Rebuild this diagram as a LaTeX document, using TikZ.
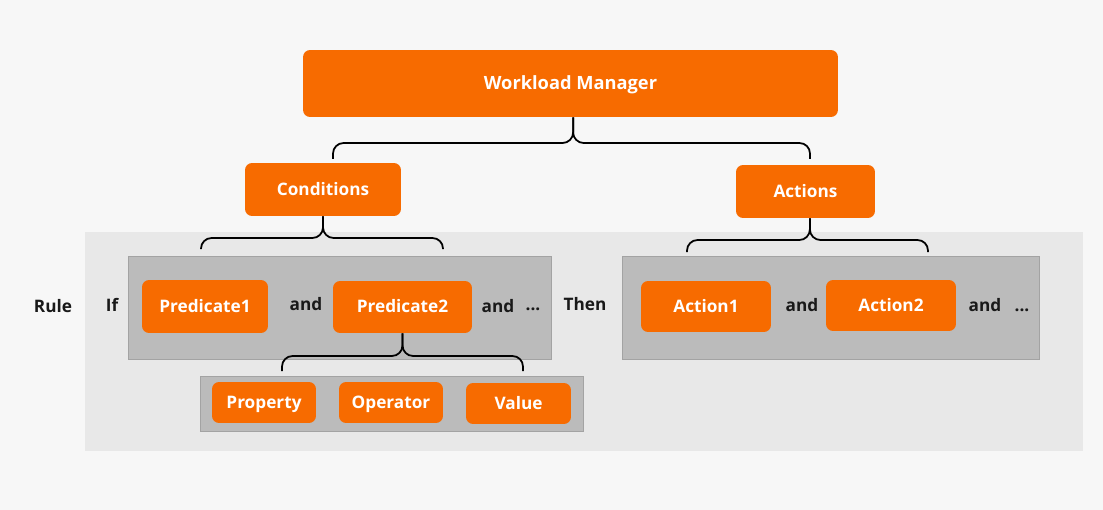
\documentclass[tikz,border=0pt]{standalone}
\usepackage{fontspec}
\setmainfont{Open Sans}
\usetikzlibrary{positioning, calc}

\definecolor{wmorange}{HTML}{F76B00}
\definecolor{pagebg}{HTML}{F7F7F7}
\definecolor{rulebg}{HTML}{E8E8E8}
\definecolor{panelbg}{HTML}{BBBBBB}
\definecolor{panelline}{HTML}{A3A3A3}

\begin{document}
\begin{tikzpicture}[x=0.02cm, y=-0.02cm, font=\fontsize{9.8}{12}\selectfont\bfseries,
    box/.style={fill=wmorange, text=white, rounded corners=4pt, inner sep=0pt,
      text height=1.6ex, text depth=0.4ex},
    panel/.style={fill=panelbg, draw=panelline, line width=0.5pt, inner sep=0pt},
    word/.style={text=black!90, inner sep=1pt, text height=1.6ex, text depth=0.4ex},
    bracket/.style={line width=1pt, rounded corners=6pt}]
  % page and rule band
  \fill[pagebg] (0,0) rectangle (1103,510);
  \useasboundingbox (0,0) rectangle (1103,510);
  \node[fill=rulebg, minimum width=19.96cm, minimum height=4.38cm, inner sep=0pt] (band) at (584,341.5) {};

  % panels
  \node[panel, minimum width=8.46cm, minimum height=2.06cm] (ifpanel) at (339.5,307.5) {};
  \node[panel, minimum width=8.34cm, minimum height=2.06cm] (thenpanel) at (830.5,307.5) {};
  \node[panel, minimum width=7.66cm, minimum height=1.1cm] (predpanel) at (391.5,403.5) {};

  % boxes
  \node[box, minimum width=10.7cm, minimum height=1.34cm, font=\fontsize{10.4}{12}\selectfont\bfseries] (wm) at (570.5,83.5) {Workload Manager};
  \node[box, minimum width=3.12cm, minimum height=1.06cm] (cond) at (323,189.5) {Conditions};
  \node[box, minimum width=2.78cm, minimum height=1.06cm] (act) at (805.5,191.5) {Actions};
  \node[box, minimum width=2.52cm, minimum height=1.06cm] (pred1) at (205,306.5) {Predicate1};
  \node[box, minimum width=2.78cm, minimum height=1.04cm] (pred2) at (402.5,307) {Predicate2};
  \node[box, minimum width=2.08cm, minimum height=0.82cm] (prop) at (264,402.5) {Property};
  \node[box, minimum width=2.08cm, minimum height=0.82cm] (oper) at (391,402.5) {Operator};
  \node[box, minimum width=2.1cm, minimum height=0.82cm] (val) at (518.5,403.5) {Value};
  \node[box, minimum width=2.6cm, minimum height=1.02cm] (act1) at (706,306.5) {Action1};
  \node[box, minimum width=2.6cm, minimum height=1.02cm] (act2) at (891,305.5) {Action2};

  % words
  \node[word] (rule) at (53,307) {Rule};
  \node[word] (if) at (112,306) {If};
  \node[word] (and1) at (306,305) {and};
  \node[word] (and2) at (498,307) {and};
  \node[word] (dots1) at (533,305) {...};
  \node[word] (then) at (585,305) {Then};
  \node[word] (and3) at (802,306) {and};
  \node[word] (and4) at (985,306) {and};
  \node[word] (dots2) at (1022,306) {...};

  % bracket ends
  \coordinate (wml) at (333,159);
  \coordinate (wmr) at (810,159);
  \coordinate (condl) at (201,249);
  \coordinate (condr) at (443,249);
  \coordinate (actl) at (687,252);
  \coordinate (actr) at (928,252);
  \coordinate (predl) at (282,371);
  \coordinate (predr) at (523,371);

  % brackets
  \draw[bracket] ([xshift=1.5]wm.south) |- ($(wml)+(0,-16)$) -- (wml);
  \draw[bracket] ([xshift=1.5]wm.south) |- ($(wmr)+(0,-16)$) -- (wmr);
  \draw[bracket] (cond.south) |- ($(condl)+(0,-11)$) -- (condl);
  \draw[bracket] (cond.south) |- ($(condr)+(0,-11)$) -- (condr);
  \draw[bracket] ([xshift=2.5]act.south) |- ($(actl)+(0,-12)$) -- (actl);
  \draw[bracket] ([xshift=2.5]act.south) |- ($(actr)+(0,-12)$) -- (actr);
  \draw[bracket] (pred2.south) |- ($(predl)+(0,-15)$) -- (predl);
  \draw[bracket] (pred2.south) |- ($(predr)+(0,-15)$) -- (predr);
\end{tikzpicture}
\end{document}
